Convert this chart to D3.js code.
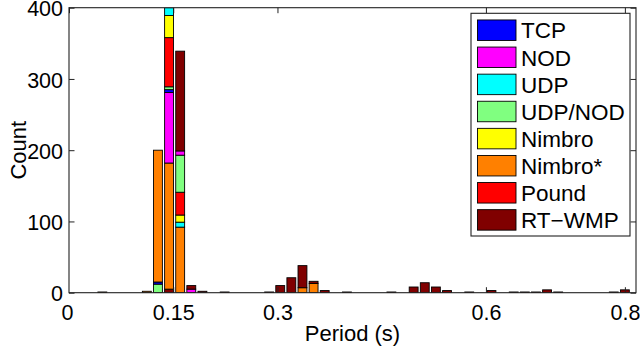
<!DOCTYPE html>
<html><head><meta charset="utf-8">
<script src="https://cdn.jsdelivr.net/npm/d3@7"></script>
<style>html,body{margin:0;padding:0;background:#fff;}svg{display:block;}</style>
</head><body>
<svg id="chart" width="640" height="347"></svg>
<script>
// ---- data ----
const seriesNames = ["TCP","NOD","UDP","UDP/NOD","Nimbro","Nimbro*","Pound","RT\u2212WMP"];
const seriesColors = ["#0000ff","#ff00ff","#00ffff","#80ff80","#ffff00","#ff8000","#ff0000","#800000"];
// bin centres (s) of non-empty bins, bin width 0.016 s
const binCenters = [0.048,0.112,0.128,0.144,0.160,0.176,0.192,0.224,0.288,0.304,0.320,0.336,0.352,0.368,0.400,0.464,0.496,0.512,0.528,0.544,0.576,0.608,0.640,0.656,0.672,0.688,0.704,0.784,0.800];
const binWidth = 0.016;
const tcp      = [0,0,3,4,0,0,0,0,0,0,0,0,0,0,0,0,0,0,0,0,0,0,0,0,0,0,0,0,0];
const nod      = [0,0,0,99,6,5,0,0,0,0,0,0,0,0,0,0,0,0,0,0,0,0,0,0,0,0,0,0,0];
const udp      = [0,0,0,11,7,0,0,0,0,0,0,0,0,0,0,0,0,0,0,0,0,0,0,0,0,0,0,0,0];
const udpNod   = [0,0,12,4,52,0,0,0,0,0,0,0,0,0,0,0,0,0,0,0,0,0,0,0,0,0,0,0,0];
const nimbro   = [0,0,0,31,10,0,0,0,0,0,0,0,0,0,0,0,0,0,0,0,0,0,0,0,0,0,0,0,0];
const nimbroS  = [1,2,185,177,92,0,0,0,0,0,0,7,13,0,0,0,0,0,0,0,0,0,0,0,0,0,0,0,0];
const pound    = [0,0,0,69,32,0,0,0,0,0,0,0,0,0,0,0,0,0,0,0,0,0,0,0,0,0,0,0,0];
const rtwmp    = [0,0,0,5,140,5,2,1,1,10,21,31,3,3,1,1,8,14,8,3,1,3,1,1,1,4,1,1,4];
const seriesValues = [tcp,nod,udp,udpNod,nimbro,nimbroS,pound,rtwmp];
// stacking order (bottom to top) per bin; null = legend order
const defaultOrder = [0,1,2,3,4,5,6,7];
const stackOrder = [null,null,[3,0,5,1,2,4,6,7],[7,5,1,0,3,6,4,2],[5,2,4,6,3,1,7,0]];
const xTicks = [0,0.15,0.3,0.6,0.8];
const xTickLabels = ["0","0.15","0.3","0.6","0.8"];
const yTicks = [0,100,200,300,400];

// ---- layout ----
const L=69, R=636, T=7.7, B=292.7;
const font = "'Liberation Sans', Arial, Helvetica, sans-serif";
const svg = d3.select("#chart");
const x = d3.scaleLinear().domain([0,0.816]).range([L,R]);
const y = d3.scaleLinear().domain([0,400]).range([B,T]);

svg.append("defs").append("clipPath").attr("id","clip")
  .append("rect").attr("x",L).attr("y",T).attr("width",R-L).attr("height",B-T);

// build segments
const segs = [];
binCenters.forEach((c,i)=>{
  const ord = stackOrder[i] || defaultOrder;
  let base = 0;
  ord.forEach(s=>{
    const v = seriesValues[s][i];
    if(v>0){ segs.push({c, s, y0:base, y1:base+v}); base+=v; }
  });
});
const bw = x(binWidth*0.8)-x(0);
svg.append("g").attr("clip-path","url(#clip)")
  .selectAll("rect").data(segs).join("rect")
  .attr("x",d=>x(d.c)-bw/2).attr("width",bw)
  .attr("y",d=>y(d.y1)).attr("height",d=>y(d.y0)-y(d.y1))
  .attr("fill",d=>seriesColors[d.s]).attr("stroke","#000").attr("stroke-width",0.9);

// axes
const axB = d3.axisBottom(x).tickValues(xTicks).tickFormat((d,i)=>xTickLabels[i]).tickSize(-5.5).tickSizeOuter(0).tickPadding(12.5);
const gB = svg.append("g").attr("transform",`translate(0,${B})`).call(axB);
const axT = d3.axisTop(x).tickValues(xTicks).tickFormat("").tickSize(-5.5).tickSizeOuter(0);
const gT = svg.append("g").attr("transform",`translate(0,${T})`).call(axT);
const axLft = d3.axisLeft(y).tickValues(yTicks).tickSize(-5.5).tickSizeOuter(0).tickPadding(6);
const gL = svg.append("g").attr("transform",`translate(${L},0)`).call(axLft);
const axRt = d3.axisRight(y).tickValues(yTicks).tickFormat("").tickSize(-5.5).tickSizeOuter(0);
const gR = svg.append("g").attr("transform",`translate(${R},0)`).call(axRt);
[gB,gT,gL,gR].forEach(g=>{
  g.select(".domain").remove();
  g.selectAll(".tick line").attr("stroke","#222").attr("stroke-width",1);
  g.selectAll("text").attr("font-family",font).attr("font-size","21.5px").attr("fill","#000");
});
gB.selectAll("text").attr("dy","0.71em");
gL.selectAll("text").attr("dy","0.38em");
gB.selectAll(".tick").filter(d=>d===0).select("line").remove();
gB.selectAll(".tick").filter(d=>d===0).select("text").attr("dx","-2");
svg.append("rect").attr("x",L).attr("y",T).attr("width",R-L).attr("height",B-T)
  .attr("fill","none").attr("stroke","#222").attr("stroke-width",1.1);

// axis labels
svg.append("text").attr("x",(L+R)/2).attr("y",341).attr("text-anchor","middle")
  .attr("font-family",font).attr("font-size","22px").text("Period (s)");
svg.append("text").attr("transform",`translate(26,${(T+B)/2}) rotate(-90)`).attr("text-anchor","middle")
  .attr("font-family",font).attr("font-size","22px").text("Count");

// legend
const lg = svg.append("g");
lg.append("rect").attr("x",471).attr("y",13.3).attr("width",159).attr("height",222.7)
  .attr("fill","#fff").attr("stroke","#222").attr("stroke-width",1.1);
seriesNames.forEach((n,i)=>{
  const cy = 30.2 + 27.1*i;
  lg.append("rect").attr("x",477.5).attr("y",cy-10.25).attr("width",38.5).attr("height",20.5)
    .attr("fill",seriesColors[i]).attr("stroke","#000").attr("stroke-width",0.9);
  lg.append("text").attr("x",521).attr("y",cy+8.2).attr("font-family",font).attr("font-size","22.5px").text(n);
});
</script>
</body></html>
